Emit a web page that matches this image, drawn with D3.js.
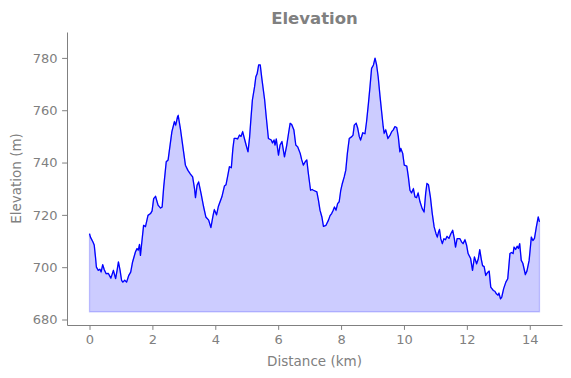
<!DOCTYPE html>
<html>
<head>
<meta charset="utf-8">
<script src="https://cdn.jsdelivr.net/npm/d3@7"></script>
<style>
  body { margin: 0; background: #fff; }
  text { font-family: "DejaVu Sans", sans-serif; }
</style>
</head>
<body>
<div id="chart"></div>
<script>
// elevation profile
var dist = [0.00,0.03,0.11,0.15,0.19,0.22,0.28,0.33,0.37,0.42,0.47,0.53,0.60,0.68,0.76,0.83,0.88,0.92,0.97,1.02,
  1.06,1.12,1.18,1.25,1.31,1.37,1.46,1.51,1.55,1.59,1.62,1.67,1.72,1.78,1.86,1.94,1.99,2.04,2.10,2.18,
  2.26,2.31,2.36,2.44,2.50,2.62,2.70,2.74,2.80,2.82,2.89,2.97,3.05,3.13,3.21,3.28,3.34,3.37,3.42,3.47,
  3.55,3.63,3.70,3.79,3.86,3.93,3.97,4.04,4.10,4.21,4.29,4.34,4.40,4.45,4.51,4.56,4.60,4.66,4.71,4.77,
  4.82,4.87,4.93,4.98,5.04,5.09,5.13,5.18,5.25,5.29,5.33,5.38,5.43,5.48,5.57,5.62,5.69,5.78,5.82,5.87,
  5.90,5.94,6.01,6.06,6.12,6.20,6.27,6.33,6.38,6.43,6.50,6.56,6.62,6.70,6.75,6.80,6.86,6.91,6.96,7.03,
  7.08,7.12,7.23,7.28,7.33,7.39,7.44,7.52,7.60,7.65,7.70,7.75,7.79,7.84,7.89,7.94,7.99,8.04,8.10,8.15,
  8.20,8.26,8.34,8.38,8.42,8.48,8.53,8.58,8.62,8.69,8.76,8.81,8.87,8.92,8.97,9.03,9.08,9.13,9.18,9.24,
  9.29,9.34,9.37,9.42,9.49,9.56,9.61,9.66,9.71,9.77,9.82,9.87,9.90,9.96,10.01,10.09,10.14,10.19,10.24,10.30,
  10.35,10.40,10.45,10.51,10.58,10.64,10.69,10.73,10.78,10.84,10.90,10.96,11.02,11.06,11.10,11.13,11.17,11.22,11.27,11.32,
  11.37,11.43,11.49,11.55,11.60,11.64,11.69,11.78,11.83,11.88,11.94,11.99,12.04,12.12,12.18,12.24,12.31,12.36,12.41,12.46,
  12.50,12.55,12.60,12.66,12.71,12.76,12.84,12.89,12.94,12.99,13.02,13.07,13.11,13.17,13.24,13.30,13.37,13.42,13.47,13.50,
  13.55,13.60,13.64,13.68,13.73,13.78,13.86,13.91,13.98,14.05,14.10,14.15,14.21,14.27,14.31];

var elev = [712.8,711.5,709.6,708.5,703.9,700.0,698.8,699.2,698.2,701.0,699.0,697.5,697.6,695.8,698.8,695.6,699.0,702.0,699.0,695.0,
  694.3,695.0,694.3,696.9,698.1,702.0,705.8,707.1,706.5,708.7,704.5,710.3,716.0,715.5,719.8,720.5,721.5,726.2,727.1,723.7,
  722.6,723.0,730.7,740.3,741.0,751.8,755.6,754.3,757.5,758.0,753.0,746.0,739.0,737.0,735.6,734.5,730.0,726.6,731.3,732.6,
  728.0,723.0,719.2,718.0,715.1,719.8,722.0,720.0,723.3,726.9,731.0,731.5,735.2,738.4,738.0,745.4,749.2,749.2,749.0,750.5,
  750.0,751.8,749.0,746.7,744.1,749.5,756.2,763.9,769.0,772.8,773.9,777.3,777.3,772.2,763.9,757.5,749.2,748.6,747.5,748.6,
  746.7,749.0,742.8,746.7,748.0,742.2,746.5,751.2,755.0,754.5,752.4,746.7,746.0,743.5,741.0,739.0,740.3,741.0,735.8,729.4,
  729.7,729.4,728.8,725.6,721.8,719.2,715.6,716.0,718.0,719.7,720.5,721.8,723.0,721.8,724.3,725.0,729.4,732.0,734.5,737.1,
  743.5,749.2,749.9,750.5,754.3,755.0,753.1,749.9,748.6,751.4,751.0,755.6,762.6,769.0,776.0,777.3,779.9,777.3,772.8,765.2,
  759.4,753.7,751.2,752.5,749.2,750.5,751.8,752.5,753.7,753.4,749.9,744.1,745.4,743.5,739.0,738.6,734.5,729.4,728.4,730.0,
  726.9,726.6,728.4,725.0,722.4,721.1,728.2,732.0,731.5,726.9,720.5,715.4,712.8,711.5,713.5,714.4,710.9,709.0,710.9,710.5,
  711.8,711.0,712.8,714.1,711.0,707.7,710.9,710.9,709.7,709.0,710.5,708.5,705.2,703.3,698.8,703.9,701.3,703.0,706.7,703.0,
  700.6,700.2,696.9,698.0,698.5,692.4,691.1,690.8,689.8,689.3,690.1,687.9,688.6,691.8,694.3,695.6,705.2,705.6,705.2,707.7,
  706.8,708.0,707.2,709.0,702.6,701.5,697.2,698.5,702.6,711.5,710.2,711.0,715.4,719.2,717.3];

var xTicks = [0, 2, 4, 6, 8, 10, 12, 14];
var yTicks = [680, 700, 720, 740, 760, 780];

var w = 571;
var h = 378;
var margin = ({top: 32, right: 9, bottom: 53, left: 67});
var grey = '#808080';

var data = dist.map((d, i) => ({d: d, e: elev[i]}));

var dMin = d3.min(dist), dMax = d3.max(dist);
var pad = (dMax - dMin) * 0.05;
var eMin = d3.min(elev), eMax = d3.max(elev);
var base = eMin - 5;

var x = d3.scaleLinear()
     .domain([dMin - pad, dMax + pad])
     .range([margin.left, w - margin.right]);

var y = d3.scaleLinear()
     .domain([eMin - 10, eMax + 10])
     .range([h - margin.bottom, margin.top]);

var svg = d3.select('#chart')
     .append('svg')
     .attr('width', w)
     .attr('height', h);

var area = d3.area()
     .x(d => x(d.d))
     .y0(y(base))
     .y1(d => y(d.e));

svg.append('path')
     .datum(data)
     .attr('d', area)
     .attr('fill', 'rgba(0,0,255,0.2)')
     .attr('stroke', 'rgba(0,0,255,0.2)')
     .attr('stroke-width', 1.3);

var line = d3.line()
     .x(d => x(d.d))
     .y(d => y(d.e));

svg.append('path')
     .datum(data)
     .attr('d', line)
     .attr('fill', 'none')
     .attr('stroke', '#0000ff')
     .attr('stroke-width', 1.3)
     .attr('stroke-linejoin', 'round');

xAxis = g => g
     .attr('transform', 'translate(0,' + (h - margin.bottom) + ')')
     .call(d3.axisBottom(x).tickValues(xTicks).tickSize(4.9).tickPadding(4.5).tickSizeOuter(0));

yAxis = g => g
     .attr('transform', 'translate(' + margin.left + ',0)')
     .call(d3.axisLeft(y).tickValues(yTicks).tickSize(4.9).tickPadding(4.5).tickSizeOuter(0));

svg.append('g').call(xAxis);
svg.append('g').call(yAxis);

svg.selectAll('.domain').attr('stroke', grey).attr('stroke-width', 1);
svg.selectAll('.tick line').attr('stroke', grey);
svg.selectAll('.tick text')
     .attr('fill', grey)
     .attr('font-family', '"DejaVu Sans", sans-serif')
     .attr('font-size', 13);

svg.append('text')
     .attr('x', (margin.left + w - margin.right) / 2)
     .attr('y', 366)
     .attr('text-anchor', 'middle')
     .attr('fill', grey)
     .attr('font-size', 13.5)
     .text('Distance (km)');

svg.append('text')
     .attr('transform', 'translate(21,' + ((margin.top + h - margin.bottom) / 2) + ') rotate(-90)')
     .attr('text-anchor', 'middle')
     .attr('fill', grey)
     .attr('font-size', 13.5)
     .text('Elevation (m)');

svg.append('text')
     .attr('x', (margin.left + w - margin.right) / 2)
     .attr('y', 24)
     .attr('text-anchor', 'middle')
     .attr('fill', grey)
     .attr('font-size', 16.5)
     .attr('font-weight', 'bold')
     .text('Elevation');
</script>
</body>
</html>
